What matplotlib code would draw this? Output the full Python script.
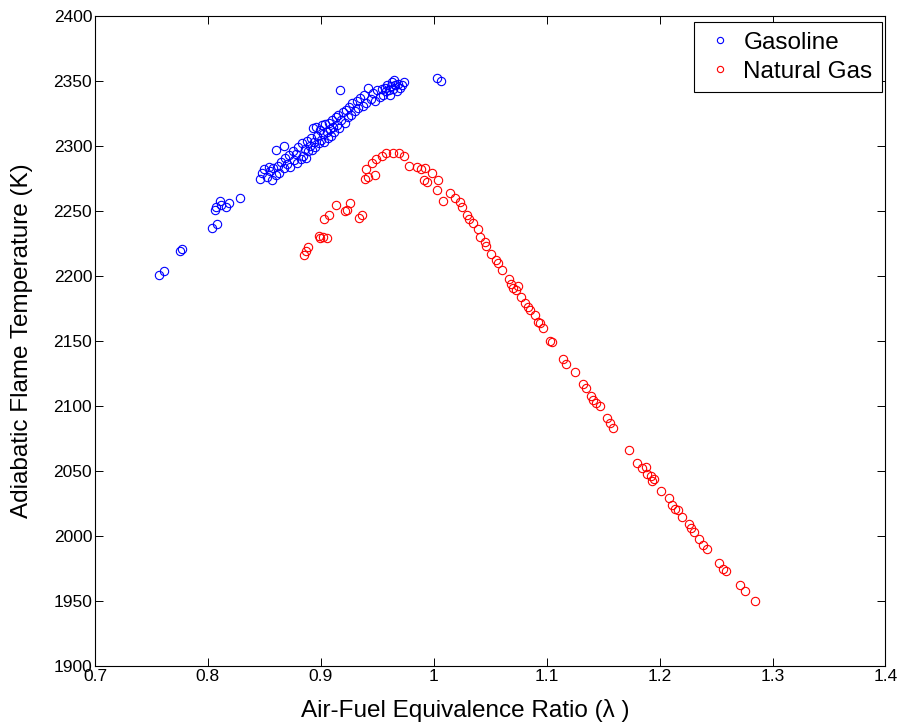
import numpy as np
import matplotlib
matplotlib.use("Agg")
import matplotlib.pyplot as plt

# Gasoline (blue)
gas_lambda = [0.757, 0.761, 0.775, 0.777, 0.804, 0.808, 0.806, 0.807, 0.811, 0.812,
              0.816, 0.819, 0.828,
              0.846, 0.848, 0.850, 0.852, 0.854, 0.855, 0.857, 0.858, 0.860, 0.860,
              0.862, 0.863, 0.865, 0.867, 0.867, 0.868, 0.870, 0.872, 0.873, 0.875,
              0.876, 0.878, 0.879, 0.880, 0.882, 0.883, 0.884, 0.886, 0.887, 0.888,
              0.889, 0.890, 0.891, 0.892, 0.893, 0.894, 0.895, 0.896, 0.897, 0.898,
              0.899, 0.900, 0.901, 0.902, 0.903, 0.904, 0.905, 0.906, 0.907, 0.908,
              0.909, 0.910, 0.911, 0.912, 0.913, 0.914, 0.915, 0.916, 0.917, 0.918,
              0.920, 0.921, 0.922, 0.924, 0.925, 0.927, 0.928, 0.930, 0.932, 0.933,
              0.935, 0.937, 0.938, 0.940, 0.942, 0.944, 0.946, 0.948, 0.950, 0.952,
              0.954, 0.955, 0.957, 0.958, 0.959, 0.960, 0.961, 0.962, 0.963, 0.964,
              0.965, 0.966, 0.967, 0.968, 0.970, 0.972, 0.974, 1.003, 1.006]
gas_temp = [2201, 2204, 2219, 2221, 2237, 2240, 2251, 2253, 2258, 2255,
            2253, 2256, 2260,
            2275, 2279, 2282, 2276, 2284, 2281, 2274, 2283, 2297, 2278,
            2285, 2279, 2288, 2300, 2283, 2291, 2286, 2293, 2284, 2296,
            2289, 2294, 2287, 2299, 2290, 2302, 2292, 2298, 2291, 2304,
            2296, 2300, 2306, 2297, 2314, 2303, 2299, 2315, 2308, 2302,
            2312, 2305, 2316, 2309, 2303, 2317, 2311, 2306, 2318, 2313,
            2308, 2320, 2315, 2311, 2322, 2316, 2324, 2314, 2343, 2320,
            2326, 2318, 2328, 2322, 2330, 2324, 2333, 2327, 2335, 2329,
            2337, 2331, 2339, 2333, 2345, 2336, 2341, 2335, 2343, 2338,
            2344, 2339, 2345, 2342, 2347, 2343, 2339, 2346, 2349, 2344,
            2351, 2347, 2342, 2348, 2345, 2347, 2349, 2352, 2350]

# Natural gas (red)
ng_lambda = [0.885, 0.887, 0.889, 0.898, 0.899, 0.902, 0.905, 0.903, 0.907, 0.913,
             0.921, 0.923, 0.926, 0.934, 0.936, 0.939, 0.942, 0.948, 0.940, 0.945,
             0.949, 0.954, 0.958, 0.964, 0.969, 0.974, 0.978, 0.985, 0.989, 0.992,
             0.991, 0.994, 0.998, 1.004, 1.003, 1.008, 1.014, 1.019, 1.023, 1.025,
             1.029, 1.031, 1.035, 1.039, 1.041, 1.045, 1.046, 1.051, 1.055, 1.057,
             1.060, 1.067, 1.068, 1.070, 1.073, 1.075, 1.077, 1.081, 1.083, 1.085,
             1.090, 1.092, 1.094, 1.097, 1.103, 1.105, 1.114, 1.117, 1.125, 1.132,
             1.135, 1.139, 1.141, 1.144, 1.147, 1.153, 1.156, 1.159, 1.173, 1.180,
             1.184, 1.188, 1.189, 1.192, 1.193, 1.195, 1.201, 1.208, 1.211, 1.214,
             1.216, 1.220, 1.226, 1.228, 1.230, 1.235, 1.238, 1.242, 1.253, 1.256,
             1.259, 1.271, 1.276, 1.284]
ng_temp = [2216, 2219, 2222, 2231, 2229, 2230, 2229, 2244, 2247, 2255,
           2250, 2251, 2256, 2245, 2247, 2275, 2276, 2278, 2282, 2287,
           2290, 2292, 2295, 2295, 2295, 2292, 2285, 2284, 2282, 2283,
           2274, 2272, 2279, 2274, 2266, 2258, 2264, 2260, 2257, 2253,
           2247, 2244, 2241, 2236, 2230, 2226, 2223, 2217, 2212, 2210,
           2205, 2198, 2194, 2191, 2189, 2192, 2184, 2179, 2176, 2174,
           2170, 2165, 2164, 2160, 2150, 2149, 2136, 2132, 2126, 2117,
           2114, 2108, 2105, 2102, 2100, 2091, 2087, 2083, 2066, 2056,
           2052, 2053, 2048, 2046, 2042, 2044, 2035, 2029, 2024, 2021,
           2020, 2015, 2009, 2006, 2003, 1998, 1993, 1990, 1979, 1975,
           1973, 1962, 1958, 1950]

W, H = 903, 728
fig = plt.figure(figsize=(W / 100, H / 100), dpi=100)
ax = fig.add_axes([95 / W, 62 / H, 790.5 / W, 650 / H])

ax.plot(gas_lambda, gas_temp, 'o', mfc='none', mec='#0000ff', ms=6, mew=0.8,
        label='Gasoline')
ax.plot(ng_lambda, ng_temp, 'o', mfc='none', mec='#ff0000', ms=6, mew=0.8,
        label='Natural Gas')

ax.set_xlim(0.7, 1.4)
ax.set_ylim(1900, 2400)
ax.set_xticks(np.arange(0.7, 1.41, 0.1))
ax.set_xticklabels(['0.7', '0.8', '0.9', '1', '1.1', '1.2', '1.3', '1.4'])
ax.set_yticks(np.arange(1900, 2401, 50))

ax.tick_params(direction='in', length=5.5, width=0.7, top=True, right=True,
               labelsize=12.5, pad=2)
for lab in ax.get_xticklabels() + ax.get_yticklabels():
    lab.set_family(['Liberation Sans Narrow', 'Liberation Sans', 'DejaVu Sans'])
for s in ax.spines.values():
    s.set_linewidth(0.8)

fam = ['Liberation Sans', 'DejaVu Sans']
ax.set_xlabel('Air-Fuel Equivalence Ratio (λ )', fontsize=17.5, family=fam)
ax.set_ylabel('Adiabatic Flame Temperature (K)', fontsize=17.5, family=fam)
ax.xaxis.set_label_coords(0.469, -0.051)
ax.yaxis.set_label_coords(-0.078, 0.5)

leg = ax.legend(loc='upper right', bbox_to_anchor=(0.9952, 0.9903),
                borderaxespad=0, fancybox=False, framealpha=1, edgecolor='black',
                prop={'family': 'Liberation Sans', 'size': 17.5}, markerscale=0.75,
                handlelength=1.34, handletextpad=0.3, borderpad=0.38, labelspacing=0.3)
leg.get_frame().set_linewidth(0.8)

fig.savefig('out.png', dpi=100)
